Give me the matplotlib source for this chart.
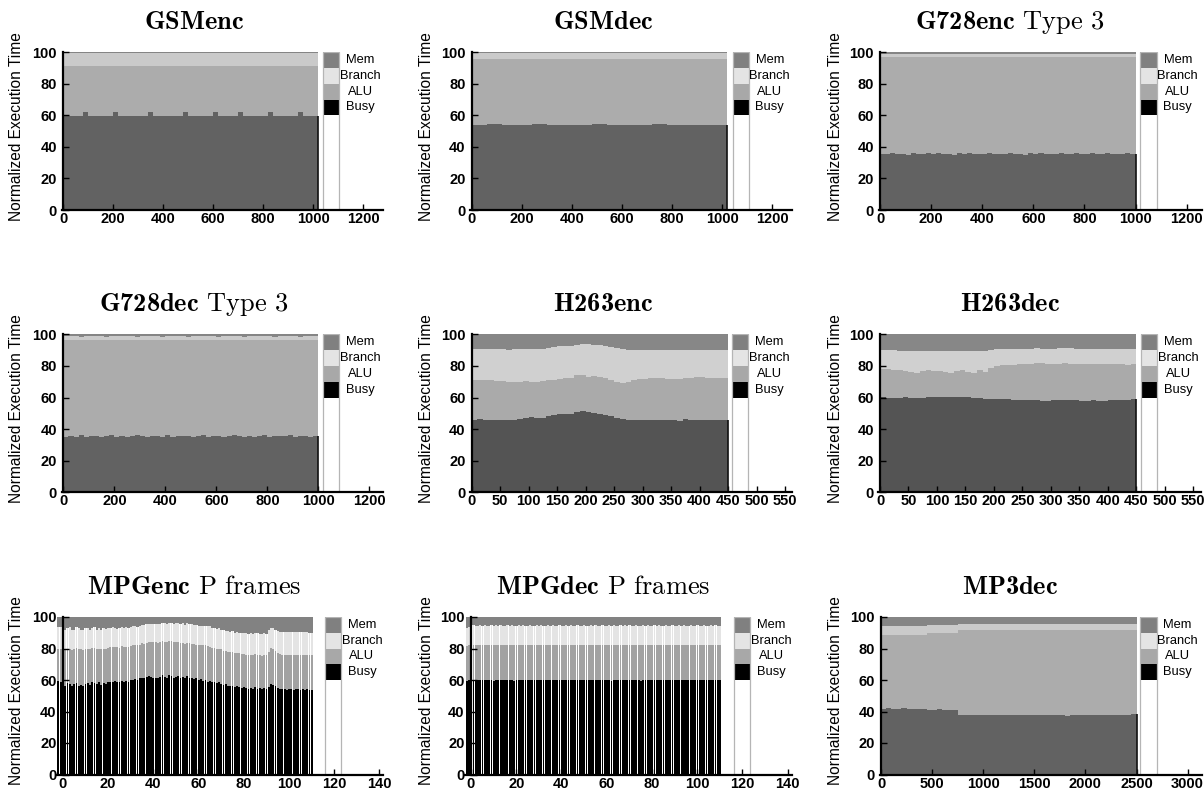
import matplotlib
matplotlib.use('Agg')
import matplotlib.pyplot as plt
import matplotlib.transforms as mtransforms
from matplotlib.patches import Rectangle
import numpy as np

plt.rcParams['mathtext.fontset'] = 'custom'
plt.rcParams['mathtext.rm'] = 'cmr10'
plt.rcParams['mathtext.bf'] = 'cmb10'
plt.rcParams['font.family'] = ['Liberation Sans', 'DejaVu Sans']

# ---- data: per-bin segment heights (normalized execution time, %) ----
# GSMenc, bins of 20 frames
gsmenc_busy = [59.8, 59.6, 59.9, 59.7, 62.0, 59.8, 59.6, 59.9, 59.7, 59.8,
               62.0, 59.7, 59.8, 59.6, 59.9, 59.7, 59.8, 62.0, 59.6, 59.8,
               59.9, 59.7, 59.8, 59.6, 62.0, 59.8, 59.7, 59.9, 59.6, 59.8,
               62.0, 59.7, 59.8, 59.6, 59.9, 62.0, 59.7, 59.8, 59.6, 59.9,
               59.8, 62.0, 59.7, 59.6, 59.8, 59.9, 59.7, 62.0, 59.8, 59.6,
               59.8]
gsmenc_alu = [31.8, 32.0, 31.7, 31.9, 29.6, 31.8, 32.0, 31.7, 31.9, 31.8,
              29.6, 31.9, 31.8, 32.0, 31.7, 31.9, 31.8, 29.6, 32.0, 31.8,
              31.7, 31.9, 31.8, 32.0, 29.6, 31.8, 31.9, 31.7, 32.0, 31.8,
              29.6, 31.9, 31.8, 32.0, 31.7, 29.6, 31.9, 31.8, 32.0, 31.7,
              31.8, 29.6, 31.9, 32.0, 31.8, 31.7, 31.9, 29.6, 31.8, 32.0,
              31.8]
gsmenc_branch = [8.0, 8.0, 7.9, 8.0, 8.0, 8.1, 8.0, 8.0, 7.9, 8.0,
                 8.0, 8.0, 8.1, 8.0, 8.0, 7.9, 8.0, 8.0, 8.0, 8.1,
                 8.0, 8.0, 7.9, 8.0, 8.0, 8.0, 8.1, 8.0, 8.0, 7.9,
                 8.0, 8.0, 8.0, 8.1, 8.0, 8.0, 7.9, 8.0, 8.0, 8.0,
                 8.1, 8.0, 8.0, 7.9, 8.0, 8.0, 8.0, 8.1, 8.0, 8.0,
                 8.0]

# GSMdec, bins of 60 frames
gsmdec_busy = [54.2, 54.3, 54.1, 54.2, 54.3, 54.2, 54.1, 54.2, 54.3,
               54.2, 54.2, 54.1, 54.3, 54.2, 54.2, 54.1, 54.2]
gsmdec_alu = [41.8, 41.7, 41.9, 41.8, 41.7, 41.8, 41.9, 41.8, 41.7,
              41.8, 41.8, 41.9, 41.7, 41.8, 41.8, 41.9, 41.8]
gsmdec_branch = [3.6, 3.6, 3.5, 3.6, 3.6, 3.6, 3.5, 3.6, 3.6,
                 3.6, 3.5, 3.6, 3.6, 3.6, 3.5, 3.6, 3.6]

# G728enc Type 3, bins of 20 frames
g728enc_busy = [35.6, 35.2, 36.1, 35.4, 35.8, 35.1, 36.0, 35.5, 35.3, 35.9,
                35.2, 36.2, 35.4, 35.7, 35.1, 35.9, 35.5, 36.1, 35.3, 35.6,
                35.2, 36.0, 35.4, 35.8, 35.5, 36.2, 35.3, 35.7, 35.1, 35.9,
                35.6, 36.0, 35.2, 35.8, 35.4, 36.1, 35.3, 35.6, 35.9, 35.2,
                35.7, 36.0, 35.4, 35.5, 36.1, 35.3, 35.8, 35.2, 35.9, 35.5]
g728enc_alu = [61.6, 62.0, 61.1, 61.8, 61.4, 62.1, 61.2, 61.7, 61.9, 61.3,
               62.0, 61.0, 61.8, 61.5, 62.1, 61.3, 61.7, 61.1, 61.9, 61.6,
               62.0, 61.2, 61.8, 61.4, 61.7, 61.0, 61.9, 61.5, 62.1, 61.3,
               61.6, 61.2, 62.0, 61.4, 61.8, 61.1, 61.9, 61.6, 61.3, 62.0,
               61.5, 61.2, 61.8, 61.7, 61.1, 61.9, 61.4, 62.0, 61.3, 61.7]
g728enc_branch = [1.7, 1.8, 1.7, 1.6, 1.7, 1.7, 1.8, 1.7, 1.6, 1.7,
                  1.7, 1.8, 1.7, 1.7, 1.6, 1.7, 1.8, 1.7, 1.7, 1.6,
                  1.7, 1.7, 1.8, 1.7, 1.6, 1.7, 1.7, 1.8, 1.7, 1.7,
                  1.6, 1.7, 1.8, 1.7, 1.7, 1.6, 1.7, 1.7, 1.8, 1.7,
                  1.7, 1.6, 1.7, 1.8, 1.7, 1.7, 1.6, 1.7, 1.8, 1.7]

# G728dec Type 3, bins of 20 frames
g728dec_busy = [35.1, 35.7, 35.3, 36.0, 35.2, 35.6, 35.9, 35.0, 35.5, 36.1,
                35.3, 35.8, 35.2, 35.6, 36.0, 35.4, 35.1, 35.9, 35.5, 35.3,
                36.1, 35.2, 35.7, 35.4, 35.9, 35.0, 35.6, 36.0, 35.3, 35.5,
                35.8, 35.2, 35.6, 36.1, 35.4, 35.1, 35.9, 35.3, 35.7, 36.0,
                35.2, 35.5, 35.8, 35.4, 36.0, 35.1, 35.6, 35.9, 35.3, 35.5]
g728dec_alu = [61.3, 60.7, 61.1, 60.4, 61.2, 60.8, 60.5, 61.4, 60.9, 60.3,
               61.1, 60.6, 61.2, 60.8, 60.4, 61.0, 61.3, 60.5, 60.9, 61.1,
               60.3, 61.2, 60.7, 61.0, 60.5, 61.4, 60.8, 60.4, 61.1, 60.9,
               60.6, 61.2, 60.8, 60.3, 61.0, 61.3, 60.5, 61.1, 60.7, 60.4,
               61.2, 60.9, 60.6, 61.0, 60.4, 61.3, 60.8, 60.5, 61.1, 60.9]
g728dec_branch = [2.3, 2.4, 2.3, 2.2, 2.3, 2.3, 2.4, 2.3, 2.2, 2.3,
                  2.3, 2.4, 2.3, 2.3, 2.2, 2.3, 2.4, 2.3, 2.3, 2.2,
                  2.3, 2.3, 2.4, 2.3, 2.2, 2.3, 2.3, 2.4, 2.3, 2.3,
                  2.2, 2.3, 2.4, 2.3, 2.3, 2.2, 2.3, 2.3, 2.4, 2.3,
                  2.3, 2.2, 2.3, 2.4, 2.3, 2.3, 2.2, 2.3, 2.4, 2.3]

# H263enc, bins of 10 frames
h263enc_busy = [46.0, 46.2, 46.0, 45.8, 46.0, 45.8, 45.6, 45.8, 46.2, 47.0,
                47.5, 46.8, 47.2, 48.0, 48.8, 49.5, 49.6, 49.8, 50.8, 51.5,
                50.8, 50.2, 49.8, 49.2, 48.5, 47.2, 46.3, 46.0, 45.8, 45.7,
                45.7, 45.6, 45.6, 45.7, 45.6, 45.5, 45.4, 46.5, 45.6, 45.7,
                45.7, 45.8, 45.8, 45.8, 45.8]
h263enc_alu = [25.0, 25.0, 25.0, 25.0, 24.5, 24.4, 24.4, 24.0, 23.8, 23.2,
               22.5, 23.0, 23.1, 22.8, 22.4, 22.3, 22.6, 22.7, 23.2, 23.0,
               22.4, 23.3, 23.2, 23.0, 22.5, 22.8, 22.9, 23.8, 25.0, 25.8,
               26.3, 26.7, 26.7, 26.5, 26.4, 26.5, 26.6, 25.7, 26.9, 27.1,
               27.1, 26.8, 26.6, 26.5, 26.5]
h263enc_branch = [19.5, 19.6, 19.6, 19.7, 20.0, 20.2, 20.3, 20.6, 20.6, 20.6,
                  20.6, 20.7, 20.7, 20.7, 20.8, 20.7, 20.4, 20.3, 19.5, 19.3,
                  20.4, 19.7, 20.0, 20.4, 21.0, 21.2, 21.3, 20.4, 19.2, 18.5,
                  18.0, 17.7, 17.7, 17.8, 18.0, 17.9, 18.0, 17.8, 17.5, 17.4,
                  17.4, 17.7, 17.9, 18.0, 18.0]

# H263dec, bins of 10 frames
h263dec_busy = [60.2, 60.0, 59.8, 60.0, 60.2, 60.0, 59.8, 60.0, 60.2, 60.3,
                60.5, 60.3, 60.2, 60.4, 60.5, 60.3, 60.0, 59.6, 59.3, 59.2,
                59.0, 58.8, 58.8, 58.6, 58.5, 58.5, 58.3, 58.2, 58.0, 58.1,
                58.2, 58.2, 58.3, 58.2, 58.2, 58.1, 58.1, 58.2, 58.1, 58.1,
                58.2, 58.2, 58.3, 58.5, 59.0]
h263dec_alu = [17.8, 17.8, 17.7, 17.3, 16.3, 16.0, 15.4, 16.8, 17.0, 16.5,
               16.0, 15.7, 15.6, 16.1, 17.0, 15.9, 15.2, 17.9, 16.7, 19.3,
               21.0, 21.7, 22.0, 22.2, 22.5, 22.7, 23.2, 23.6, 23.8, 23.4,
               23.0, 23.3, 23.5, 23.3, 23.1, 23.1, 23.4, 23.1, 23.1, 22.9,
               22.8, 23.0, 22.7, 22.3, 22.0]
h263dec_branch = [12.0, 12.2, 12.3, 12.4, 13.0, 13.5, 14.1, 12.7, 12.4, 12.7,
                  13.0, 13.4, 13.6, 13.0, 12.1, 13.1, 14.0, 11.9, 13.5, 11.7,
                  10.8, 10.5, 10.2, 10.0, 9.8, 9.7, 9.5, 9.4, 9.2, 9.4,
                  9.8, 9.7, 9.7, 9.7, 9.7, 9.8, 9.5, 9.6, 9.6, 9.8,
                  9.7, 9.6, 9.8, 9.9, 9.8]

# MPGenc P frames, one bar per frame (first two sit left of frame 0)
mpgenc_busy = [59.5, 59.0,
               57.0, 56.5, 58.0, 57.5, 56.0, 57.5, 58.0, 56.5, 57.0, 56.0, 57.5,
               58.0, 57.0, 58.5, 58.0, 57.5, 58.5, 57.0, 58.0, 57.5, 58.5,
               59.0, 58.5, 59.5, 59.0, 59.0, 59.5, 58.5, 59.5, 59.0, 60.0,
               60.0, 60.5, 60.0, 61.0, 61.5, 61.0, 62.0, 62.5, 62.0, 61.5,
               61.5, 61.0, 62.0, 63.0, 62.0, 61.5, 63.0, 62.5, 61.5, 62.0,
               62.5, 61.5, 62.0, 61.0, 62.5, 61.5, 61.0, 60.5, 61.0, 60.0,
               60.5, 59.5, 60.0, 59.0, 59.5, 58.5, 59.0, 58.0, 58.5, 57.5,
               57.0, 57.5, 56.5, 56.0, 56.5, 55.5, 56.0, 55.5, 55.0, 55.5,
               55.0, 54.5, 55.0, 54.5, 55.5, 54.5, 55.0, 54.0, 55.0, 54.5,
               55.5, 57.5, 57.0, 56.0, 55.0, 54.5, 54.0, 54.5, 53.5, 54.0,
               54.0, 53.5, 54.0, 54.5, 53.5, 54.0, 53.5, 54.0, 53.5, 53.5]
mpgenc_alu = [20.5, 21.0,
              22.5, 23.0, 22.0, 22.5, 23.0, 22.0, 22.5, 23.0, 22.5, 23.0, 22.5,
              22.0, 22.5, 22.0, 22.5, 22.0, 21.5, 22.5, 22.0, 22.5, 22.0,
              22.0, 22.5, 21.5, 22.0, 21.5, 22.0, 22.5, 21.5, 22.0, 21.5,
              22.0, 21.5, 22.0, 21.5, 22.0, 22.0, 21.5, 21.5, 22.0, 22.5,
              22.5, 22.5, 22.0, 21.5, 22.0, 22.5, 21.5, 22.0, 22.5, 22.0,
              21.5, 22.0, 21.5, 22.0, 21.0, 22.0, 22.0, 22.5, 21.5, 22.0,
              22.0, 22.5, 22.0, 22.5, 21.5, 22.0, 21.5, 22.0, 21.5, 22.0,
              21.5, 21.0, 21.5, 21.5, 21.0, 21.5, 21.0, 21.5, 21.5, 21.0,
              21.0, 21.5, 21.0, 21.5, 21.0, 21.5, 21.0, 21.5, 21.0, 21.5,
              22.5, 23.0, 23.0, 22.5, 22.0, 22.0, 22.0, 21.5, 22.5, 22.0,
              22.0, 22.5, 22.0, 21.5, 22.5, 22.0, 22.5, 22.0, 22.5, 22.5]
mpgenc_branch = [13.5, 13.5,
                 13.0, 12.5, 13.0, 13.5, 13.0, 12.5, 13.0, 13.5, 12.5, 13.0, 13.0,
                 13.0, 12.5, 12.5, 13.0, 12.5, 13.0, 12.5, 13.0, 12.5, 12.5,
                 12.0, 12.5, 12.0, 11.5, 12.5, 12.0, 12.0, 12.5, 12.0, 12.0,
                 12.0, 12.0, 11.5, 12.0, 11.5, 12.0, 12.0, 11.5, 11.5, 11.5,
                 11.5, 12.0, 11.5, 11.5, 12.0, 11.5, 11.5, 12.0, 11.5, 12.0,
                 12.0, 12.0, 12.5, 12.0, 12.5, 12.0, 12.5, 12.0, 12.5, 12.5,
                 12.0, 12.5, 12.0, 12.5, 13.0, 12.5, 12.5, 12.5, 13.0, 12.5,
                 13.0, 12.5, 13.0, 13.0, 13.5, 13.0, 13.5, 13.0, 13.5, 13.5,
                 14.0, 13.5, 14.0, 13.5, 13.5, 14.0, 13.5, 14.0, 14.0, 13.5,
                 13.5, 12.5, 13.0, 13.5, 14.0, 14.0, 14.5, 14.5, 14.5, 14.5,
                 14.5, 14.5, 14.5, 14.5, 14.5, 14.5, 14.5, 14.5, 14.0, 14.0]

# MPGdec P frames, one bar per frame
mpgdec_busy = [59.5, 59.8,
               60.0, 59.8, 60.2, 59.9, 60.1, 59.7, 60.0, 60.3, 59.8, 60.0,
               59.6, 59.9, 60.1, 59.8, 60.0, 59.7, 59.9, 60.2, 59.8, 59.5,
               59.7, 60.0, 59.8, 60.1, 59.9, 59.7, 60.0, 59.8, 60.2, 59.9,
               60.1, 59.8, 60.0, 59.7, 60.2, 59.9, 60.0, 59.8, 60.1, 59.9,
               60.0, 59.7, 59.9, 60.1, 59.8, 60.0, 59.9, 60.2, 59.8, 60.0,
               59.9, 60.1, 60.3, 60.0, 59.8, 60.1, 59.9, 60.0, 59.7, 60.0,
               59.8, 60.0, 59.6, 59.9, 59.7, 60.0, 59.8, 59.9, 60.1, 59.8,
               60.0, 59.7, 59.9, 59.8, 60.0, 59.6, 59.9, 60.1, 59.8, 60.0,
               59.9, 60.1, 59.8, 60.0, 59.7, 59.9, 60.0, 59.8, 60.1, 59.7,
               59.9, 60.0, 59.8, 60.1, 59.9, 59.7, 60.0, 59.8, 59.9, 60.1,
               59.8, 60.0, 59.7, 59.9, 60.0, 59.8, 60.1, 59.9, 60.0, 59.8,
               60.2]
mpgdec_alu = [22.0, 22.2,
              22.3, 22.5, 22.1, 22.4, 22.2, 22.6, 22.3, 22.0, 22.5, 22.3,
              22.7, 22.4, 22.2, 22.5, 22.3, 22.6, 22.4, 22.1, 22.5, 22.8,
              22.6, 22.3, 22.5, 22.2, 22.4, 22.6, 22.3, 22.5, 22.1, 22.4,
              22.2, 22.5, 22.3, 22.6, 22.1, 22.4, 22.3, 22.5, 22.2, 22.4,
              22.3, 22.6, 22.4, 22.2, 22.5, 22.3, 22.4, 22.1, 22.5, 22.3,
              22.4, 22.2, 22.0, 22.3, 22.5, 22.2, 22.4, 22.3, 22.6, 22.3,
              22.5, 22.3, 22.7, 22.4, 22.6, 22.3, 22.5, 22.4, 22.2, 22.5,
              22.3, 22.6, 22.4, 22.5, 22.3, 22.7, 22.4, 22.2, 22.5, 22.3,
              22.4, 22.2, 22.5, 22.3, 22.6, 22.4, 22.3, 22.5, 22.2, 22.6,
              22.4, 22.3, 22.5, 22.2, 22.4, 22.6, 22.3, 22.5, 22.4, 22.2,
              22.5, 22.3, 22.6, 22.4, 22.3, 22.5, 22.2, 22.4, 22.3, 22.5,
              22.1]
mpgdec_branch = [11.5, 11.8,
                 12.2, 12.4, 12.1, 12.3, 12.5, 12.2, 12.4, 12.3, 12.1, 12.4,
                 12.3, 12.5, 12.2, 12.4, 12.3, 12.1, 12.4, 12.2, 12.5, 12.3,
                 12.2, 12.4, 12.3, 12.5, 12.1, 12.3, 12.4, 12.2, 12.3, 12.5,
                 12.2, 12.4, 12.3, 12.1, 12.4, 12.2, 12.5, 12.3, 12.2, 12.4,
                 12.3, 12.2, 12.4, 12.3, 12.5, 12.2, 12.3, 12.4, 12.1, 12.3,
                 12.4, 12.2, 12.3, 12.5, 12.2, 12.4, 12.3, 12.1, 12.4, 12.3,
                 12.2, 12.4, 12.3, 12.5, 12.2, 12.3, 12.4, 12.2, 12.5, 12.3,
                 12.4, 12.2, 12.3, 12.4, 12.1, 12.3, 12.5, 12.2, 12.4, 12.3,
                 12.2, 12.4, 12.3, 12.5, 12.2, 12.3, 12.4, 12.1, 12.3, 12.4,
                 12.3, 12.2, 12.4, 12.3, 12.5, 12.2, 12.3, 12.4, 12.2, 12.3,
                 12.4, 12.3, 12.1, 12.4, 12.3, 12.2, 12.5, 12.3, 12.4, 12.2,
                 12.3]

# MP3dec, bins of 50 frames
mp3dec_busy = [41.9, 42.0, 41.8, 41.9, 42.0, 41.8, 41.9, 41.9, 41.8,
               41.2, 41.0, 41.3, 41.1, 41.2, 41.0,
               38.0, 37.6, 37.8, 37.5, 37.9, 37.7, 37.8, 37.6, 37.9, 37.7,
               37.5, 37.8, 37.6, 37.9, 37.7, 37.8, 37.5, 37.7, 37.9, 37.6,
               37.8, 37.4, 37.7, 37.6, 37.9, 37.5, 37.7, 37.8, 37.6, 37.5,
               37.7, 37.9, 37.8, 38.0, 38.2]
mp3dec_alu = [46.9, 46.8, 47.0, 46.9, 46.8, 47.0, 46.9, 46.9, 47.0,
              48.7, 48.9, 48.6, 48.8, 48.7, 48.9,
              53.5, 53.9, 53.7, 54.0, 53.6, 53.8, 53.7, 53.9, 53.6, 53.8,
              54.0, 53.7, 53.9, 53.6, 53.8, 53.7, 54.0, 53.8, 53.6, 53.9,
              53.7, 54.1, 53.8, 53.9, 53.6, 54.0, 53.8, 53.7, 53.9, 54.0,
              53.8, 53.6, 53.7, 53.5, 53.3]
mp3dec_branch = [5.7, 5.7, 5.7, 5.7, 5.7, 5.7, 5.7, 5.7, 5.7,
                 5.2, 5.2, 5.2, 5.2, 5.2, 5.2,
                 4.3, 4.3, 4.3, 4.3, 4.3, 4.3, 4.3, 4.3, 4.3, 4.3,
                 4.3, 4.3, 4.3, 4.3, 4.3, 4.3, 4.3, 4.3, 4.3, 4.3,
                 4.3, 4.3, 4.3, 4.3, 4.3, 4.3, 4.3, 4.3, 4.3, 4.3,
                 4.3, 4.3, 4.3, 4.3, 4.3]

legend_labels = ['Mem', 'Branch', 'ALU', 'Busy']
legend_colors = ['#808080', '#e4e4e4', '#a8a8a8', '#000000']

# apparent colours (busy, alu, branch, mem)
dense_gsm = ['#626262', '#acacac', '#cacaca', '#858585']
dense_h263 = ['#545454', '#aaaaaa', '#d0d0d0', '#878787']
sparse_mpg = ['#000000', '#a2a2a2', '#e4e4e4', '#828282']

W, H = 1204, 792
fig = plt.figure(figsize=(W / 100, H / 100), dpi=100)

row_tb = [(52.3, 210.0), (334.3, 492.3), (617.0, 774.5)]
title_cx = [194, 603, 1010]
ylabel_cx = [16.5, 426.5, 836.0]


def dense_x(n, step):
    return np.arange(n) * step + step / 2.0, step


def frame_x(n):
    # bars start two frames left of the y axis
    return np.arange(n) - 1.9, 1.0


panels = [
    dict(title=r'$\mathbf{GSMenc}$', data=(gsmenc_busy, gsmenc_alu, gsmenc_branch),
         step=20, colors=dense_gsm, xlim=(-6, 1278), xticks=range(0, 1201, 200),
         legend=(1040, 1104), px=(61.8, 382.7)),
    dict(title=r'$\mathbf{GSMdec}$', data=(gsmdec_busy, gsmdec_alu, gsmdec_branch),
         step=60, colors=dense_gsm, xlim=(-6, 1278), xticks=range(0, 1201, 200),
         legend=(1042, 1106), px=(470.2, 791.8)),
    dict(title=r'$\mathbf{G728enc}\ \mathrm{Type\ 3}$',
         data=(g728enc_busy, g728enc_alu, g728enc_branch),
         step=20, colors=dense_gsm, xlim=(-6, 1260), xticks=range(0, 1201, 200),
         legend=(1017, 1083), px=(878.5, 1202.0)),
    dict(title=r'$\mathbf{G728dec}\ \mathrm{Type\ 3}$',
         data=(g728dec_busy, g728dec_alu, g728dec_branch),
         step=20, colors=dense_gsm, xlim=(-6, 1252), xticks=range(0, 1201, 200),
         legend=(1020, 1082), px=(61.8, 382.6)),
    dict(title=r'$\mathbf{H263enc}$', data=(h263enc_busy, h263enc_alu, h263enc_branch),
         step=10, colors=dense_h263, xlim=(-3, 562), xticks=range(0, 551, 50),
         legend=(457.5, 485.5), px=(470.0, 791.9)),
    dict(title=r'$\mathbf{H263dec}$', data=(h263dec_busy, h263dec_alu, h263dec_branch),
         step=10, colors=dense_h263, xlim=(-3, 564), xticks=range(0, 551, 50),
         legend=(458, 487), px=(878.3, 1201.3)),
    dict(title=r'$\mathbf{MPGenc}\ \mathrm{P\ frames}$',
         data=(mpgenc_busy, mpgenc_alu, mpgenc_branch),
         step=None, colors=sparse_mpg, xlim=(-2.5, 141.5), xticks=range(0, 141, 20),
         legend=(116, 123), px=(57.0, 382.8)),
    dict(title=r'$\mathbf{MPGdec}\ \mathrm{P\ frames}$',
         data=(mpgdec_busy, mpgdec_alu, mpgdec_branch),
         step=None, colors=sparse_mpg, xlim=(-2.5, 141.8), xticks=range(0, 141, 20),
         legend=(116.3, 123.4), px=(465.3, 791.8)),
    dict(title=r'$\mathbf{MP3dec}$', data=(mp3dec_busy, mp3dec_alu, mp3dec_branch),
         step=50, colors=dense_gsm, xlim=(-15, 3140), xticks=range(0, 3001, 500),
         legend=(2534, 2697), px=(879.5, 1201.9)),
]

for k, p in enumerate(panels):
    row, col = divmod(k, 3)
    l, r = p['px']
    t, b = row_tb[row]
    ax = fig.add_axes([l / W, 1 - b / H, (r - l) / W, (b - t) / H])

    busy, alu, branch = (np.array(v, dtype=float) for v in p['data'])
    mem = 100.0 - (busy + alu + branch)   # remainder up to the normalized total
    n = len(busy)
    if p['step'] is None:
        x, full = frame_x(n)
        w = 0.8
    else:
        x, full = dense_x(n, p['step'])
        w = full
    cb, ca, cr, cm = p['colors']
    ax.bar(x, busy, width=w, color=cb, linewidth=0)
    ax.bar(x, alu, width=w, bottom=busy, color=ca, linewidth=0)
    ax.bar(x, branch, width=w, bottom=busy + alu, color=cr, linewidth=0)
    ax.bar(x, mem, width=full, bottom=busy + alu + branch, color=cm, linewidth=0)
    if p['step'] is not None:
        # the last (undiluted) busy bar shows as a dark edge
        ax.vlines(x[-1] + w / 2, 0, busy[-1], color='#111111', linewidth=1.2)

    ax.set_xlim(*p['xlim'])
    ax.set_ylim(0, 100)
    ax.spines[['top', 'right']].set_visible(False)
    ax.spines['left'].set_position(('data', 0))
    for s in ('left', 'bottom'):
        ax.spines[s].set_linewidth(1.6)
    ax.set_xticks(list(p['xticks']))
    ax.set_xticklabels([str(v) for v in p['xticks']], fontweight='bold')
    ax.set_yticks(range(0, 101, 20))
    ax.set_yticklabels([str(v) for v in range(0, 101, 20)], fontweight='bold')
    ax.tick_params(direction='in', length=4.5, width=1, labelsize=10.5)
    ax.tick_params(axis='x', pad=1.5)
    ax.tick_params(axis='y', pad=4.5)

    # legend drawn as a column inside the plot
    x0, x1 = p['legend']
    for j, (lab, c) in enumerate(zip(legend_labels, legend_colors)):
        ax.add_patch(Rectangle((x0, 90 - 10 * j), x1 - x0, 10, facecolor=c,
                               edgecolor='none', zorder=2.1))
        ax.text(x1, 95 - 10 * j, lab,
                transform=mtransforms.offset_copy(ax.transData, fig=fig, x=21, units='dots'),
                ha='center', va='center', fontsize=9.3)
    ax.add_patch(Rectangle((x0, 0), x1 - x0, 100, facecolor='none',
                           edgecolor='#b5b5b5', linewidth=0.9, zorder=2.2))

    fig.text(title_cx[col] / W, 1 - (t - 23) / H, p['title'], ha='center',
             va='baseline', fontsize=19)
    fig.text(ylabel_cx[col] / W, 1 - ((t + b) / 2 - 5) / H, 'Normalized Execution Time',
             rotation=90, ha='center', va='center', fontsize=11.2)

fig.savefig('out.png', dpi=100)
